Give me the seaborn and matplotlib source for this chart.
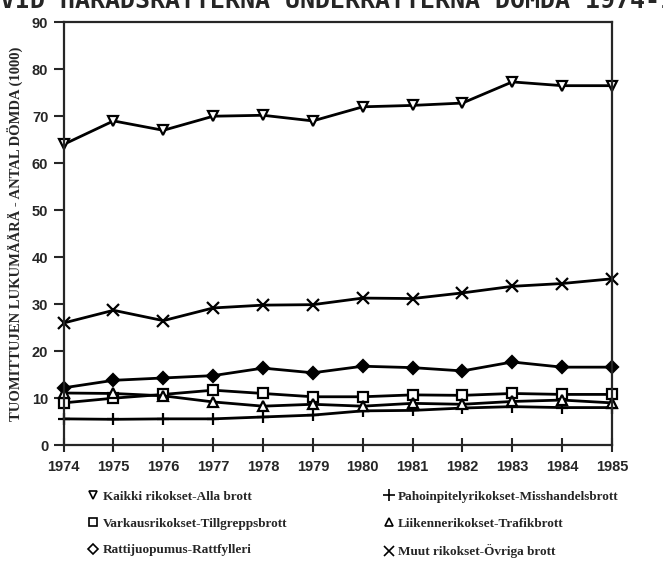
import matplotlib
matplotlib.use("Agg")
import matplotlib.pyplot as plt
from matplotlib.lines import Line2D
import seaborn as sb
import pandas as pd

# values (thousands of sentenced persons)
years = [1974, 1975, 1976, 1977, 1978, 1979, 1980, 1981, 1982, 1983, 1984, 1985]
kaikki = [64.0, 69.0, 67.0, 70.0, 70.2, 69.0, 72.0, 72.3, 72.8, 77.3, 76.5, 76.5]
pahoinpitely = [5.6, 5.5, 5.6, 5.6, 6.0, 6.4, 7.3, 7.4, 7.9, 8.2, 8.0, 8.0]
varkaus = [9.0, 10.0, 10.8, 11.7, 11.0, 10.3, 10.3, 10.7, 10.6, 11.0, 10.8, 10.8]
liikenne = [11.1, 11.0, 10.5, 9.2, 8.3, 8.7, 8.3, 8.9, 8.7, 9.3, 9.6, 9.0]
ratti = [12.2, 13.8, 14.3, 14.8, 16.4, 15.4, 16.8, 16.5, 15.8, 17.7, 16.6, 16.6]
muut = [26.0, 28.7, 26.5, 29.2, 29.8, 29.9, 31.3, 31.2, 32.4, 33.8, 34.4, 35.4]

labels = ['Kaikki rikokset-Alla brott', 'Varkausrikokset-Tillgreppsbrott',
          'Rattijuopumus-Rattfylleri', 'Pahoinpitelyrikokset-Misshandelsbrott',
          'Liikennerikokset-Trafikbrott', 'Muut rikokset-Övriga brott']
series = [kaikki, varkaus, ratti, pahoinpitely, liikenne, muut]
markers = ['v', 's', 'D', '+', '^', 'x']
fills = ['white', 'white', 'black', 'black', 'white', 'black']
sizes = [7, 7, 6, 9, 7, 8]

sb.set_style("ticks")

fig = plt.figure(figsize=(6.63, 5.7), dpi=100)
ax = fig.add_axes([0.096, 0.219, 0.827, 0.742])

for lab, vals, m, fc, ms in zip(labels, series, markers, fills, sizes):
    df = pd.DataFrame({'year': years, 'val': vals})
    sb.lineplot(data=df, x='year', y='val', ax=ax, color='black', lw=2,
                marker=m, markersize=ms, markerfacecolor=fc,
                markeredgecolor='black', markeredgewidth=1.6, clip_on=False)

ax.set_xlim(1974, 1985)
ax.set_ylim(0, 90)
ax.set_xticks(years)
ax.set_yticks(range(0, 91, 10))
ax.set_xlabel('')
ax.set_ylabel('TUOMITTUJEN LUKUMÄÄRÄ - ANTAL DÖMDA (1000)',
              fontfamily='Liberation Serif', fontweight='bold', fontsize=10.5,
              labelpad=6)
for s in ax.spines.values():
    s.set_linewidth(1.6)
    s.set_visible(True)
ax.tick_params(axis='x', direction='inout', length=10, width=1.5, pad=6)
ax.tick_params(axis='y', direction='out', length=7, width=1.5, pad=4)
for t in ax.get_xticklabels() + ax.get_yticklabels():
    t.set_fontweight('bold')
    t.set_fontsize(10.5)
    t.set_fontfamily('Liberation Sans')

# title line, only the lower half survives at the top edge of the scan
fig.text(0.0, 0.998, 'VID HÄRADSRÄTTERNA UNDERRÄTTERNA DÖMDA 1974-1985',
         fontfamily='DejaVu Sans Mono', fontweight='bold', fontsize=18,
         va='center', ha='left')

handles = [Line2D([], [], ls='none', marker=m, markersize=ms - 1,
                  markerfacecolor='white', markeredgecolor='black',
                  markeredgewidth=1.2) for m, ms in zip(markers, sizes)]
fig.legend(handles, labels, loc='upper left', bbox_to_anchor=(0.115, 0.16),
           ncol=2, frameon=False, handlelength=0.8, handletextpad=0.3,
           columnspacing=7.3, labelspacing=1.1,
           prop={'family': 'Liberation Serif', 'weight': 'bold', 'size': 9.5})

fig.savefig('out.png', dpi=100)
